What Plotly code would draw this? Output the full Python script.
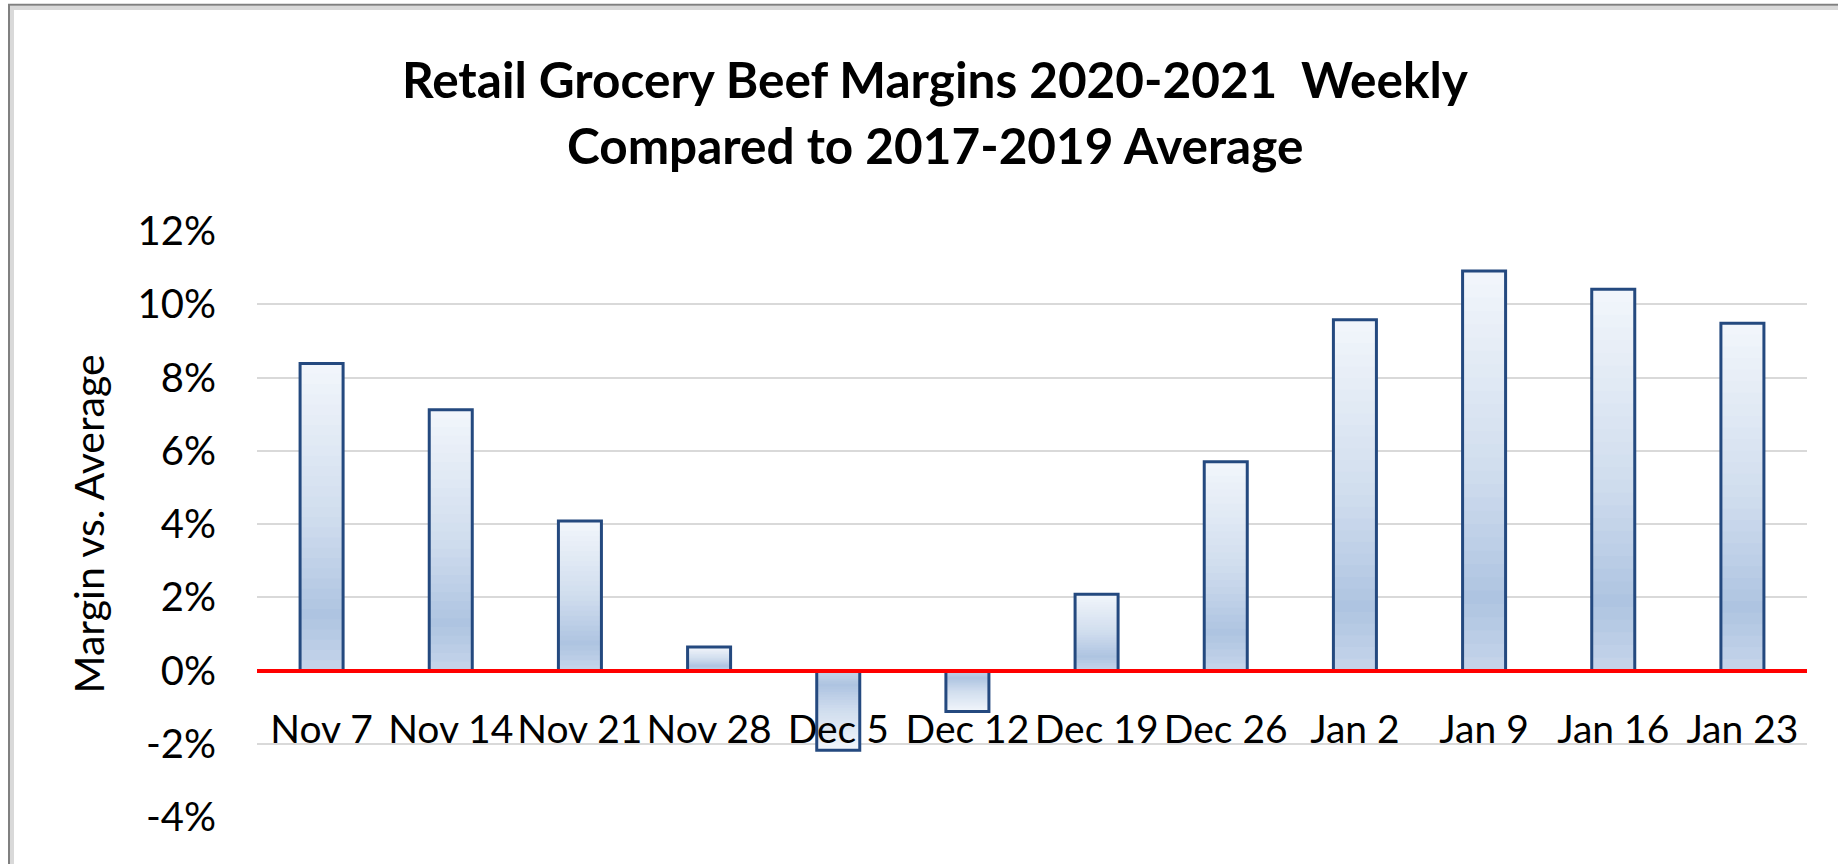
import plotly.graph_objects as go

# ---- data ----
weeks = ["Nov 7", "Nov 14", "Nov 21", "Nov 28", "Dec 5", "Dec 12",
         "Dec 19", "Dec 26", "Jan 2", "Jan 9", "Jan 16", "Jan 23"]
margin_vs_avg = [0.0838, 0.0712, 0.0408, 0.0064, -0.0218, -0.0112,
                 0.0208, 0.0570, 0.0958, 0.1091, 0.1041, 0.0948]
y_tickvals = [-0.04, -0.02, 0.0, 0.02, 0.04, 0.06, 0.08, 0.10, 0.12]
y_ticktext = ["-4%", "-2%", "0%", "2%", "4%", "6%", "8%", "10%", "12%"]
title_line1 = "Retail Grocery Beef Margins 2020-2021  Weekly"
title_line2 = "Compared to 2017-2019 Average"
y_title = "Margin vs. Average"

# ---- styling helpers ----
grad_stops = [(0.0, (198, 213, 234)), (0.18, (174, 196, 225)),
              (0.5, (208, 221, 238)), (1.0, (242, 246, 251))]


def grad_color(f):
    for (f0, c0), (f1, c1) in zip(grad_stops[:-1], grad_stops[1:]):
        if f0 <= f <= f1:
            t = (f - f0) / (f1 - f0)
            c = [round(a + (b - a) * t) for a, b in zip(c0, c1)]
            return "rgb(%d,%d,%d)" % tuple(c)
    return "rgb(%d,%d,%d)" % grad_stops[-1][1]


fig = go.Figure()
N = 30
for k in range(N):
    f = 1 - k / N
    fig.add_trace(go.Bar(
        x=weeks, y=[v * f for v in margin_vs_avg],
        marker=dict(color=grad_color(f - 0.5 / N), line=dict(width=0)),
        hoverinfo="skip", showlegend=False))
fig.add_trace(go.Bar(
    x=weeks, y=margin_vs_avg,
    marker=dict(color="rgba(0,0,0,0)", line=dict(color="#24497f", width=3)),
    showlegend=False))

FONT = "Lato, 'Open Sans', sans-serif"
fig.update_layout(
    width=1838, height=864,
    margin=dict(l=257, r=31, t=231, b=47, autoexpand=False),
    paper_bgcolor="white", plot_bgcolor="white",
    barmode="overlay", bargap=0.667,
    font=dict(family=FONT, color="black"),
    xaxis=dict(type="category", anchor="free", position=0.25,
               showline=True, linecolor="#ff0000", linewidth=4,
               layer="above traces", showgrid=False, ticks="",
               tickangle=0, ticklabelstandoff=24,
               tickfont=dict(size=39, family=FONT, color="black")),
    yaxis=dict(range=[-0.04, 0.12], tickvals=y_tickvals, ticktext=y_ticktext,
               showgrid=True, gridcolor="#d9d9d9", gridwidth=2,
               zeroline=False, showline=False, ticks="",
               ticklabelstandoff=40,
               tickfont=dict(size=40, family=FONT, color="black"),
               title=dict(text=y_title, standoff=20,
                          font=dict(size=41, family=FONT, color="black"))),
    annotations=[
        dict(text="<b>" + title_line1 + "</b>", xref="paper", yref="paper",
             x=(935 - 257) / 1550, y=(817 - 79) / 586, xanchor="center",
             yanchor="middle", showarrow=False,
             font=dict(size=49.5, family=FONT, color="black")),
        dict(text="<b>" + title_line2 + "</b>", xref="paper", yref="paper",
             x=(935 - 257) / 1550, y=(817 - 145) / 586, xanchor="center",
             yanchor="middle", showarrow=False,
             font=dict(size=49.5, family=FONT, color="black")),
    ],
    shapes=[
        dict(type="rect", xref="paper", yref="paper", layer="below",
             x0=(12 - 257) / 1550, x1=1.2, y0=-0.3, y1=(817 - 8) / 586,
             line=dict(color="#d9d9d9", width=4)),
        dict(type="rect", xref="paper", yref="paper", layer="below",
             x0=(9 - 257) / 1550, x1=1.2, y0=-0.3, y1=(817 - 4.7) / 586,
             line=dict(color="#808080", width=2)),
    ],
)

fig.write_html("out.html")
